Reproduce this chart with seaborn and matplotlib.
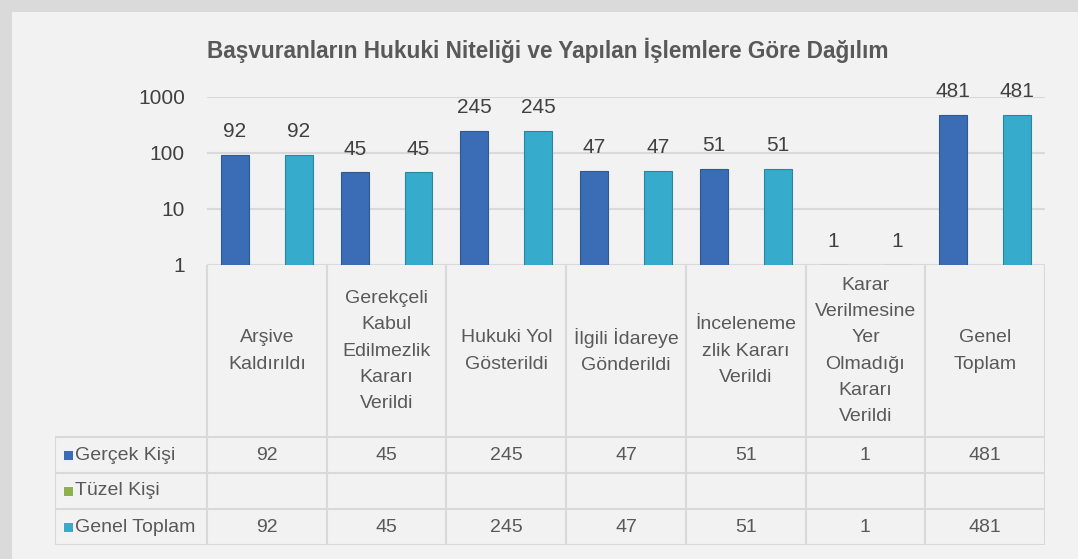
import numpy as np
import pandas as pd
import seaborn as sns
import matplotlib.pyplot as plt
from matplotlib.patches import Rectangle
from matplotlib.ticker import NullLocator

# data
categories = ["Arşive\nKaldırıldı", "Gerekçeli\nKabul\nEdilmezlik\nKararı\nVerildi",
              "Hukuki Yol\nGösterildi", "İlgili İdareye\nGönderildi",
              "İnceleneme\nzlik Kararı\nVerildi",
              "Karar\nVerilmesine\nYer\nOlmadığı\nKararı\nVerildi", "Genel\nToplam"]
series = ["Gerçek Kişi", "Tüzel Kişi", "Genel Toplam"]
gercek_kisi = [92, 45, 245, 47, 51, 1, 481]
tuzel_kisi = [np.nan] * 7
genel_toplam = [92, 45, 245, 47, 51, 1, 481]
yticks = [1, 10, 100, 1000]
colors = ["#3a6db5", "#8fb04e", "#36abcb"]
edges = {"#3a6db5": "#2f5a8f", "#36abcb": "#2a86a0"}
title = "Başvuranların Hukuki Niteliği ve Yapılan İşlemlere Göre Dağılım"

df = pd.DataFrame({
    "cat": categories * 3,
    "series": np.repeat(series, len(categories)),
    "val": gercek_kisi + tuzel_kisi + genel_toplam,
})

sns.set_theme(style="white")
plt.rcParams["font.family"] = ["Liberation Sans", "DejaVu Sans"]

W, H = 1078, 559
fig = plt.figure(figsize=(W / 100, H / 100), dpi=100, facecolor="#dadada")
fig.patches.append(Rectangle((12 / W, 0), 1, 1 - 12 / H, transform=fig.transFigure,
                             facecolor="#f2f2f2", edgecolor="none", zorder=-5))

fig.text(548 / W, 1 - 50 / H, title, ha="center", va="center", fontsize=16.3,
         fontweight="bold", color="#595959")

# bar chart
ax = fig.add_axes([207 / W, 1 - 265 / H, 838 / W, 168 / H])
ax.patch.set_alpha(0)
sns.barplot(data=df, x="cat", y="val", hue="series", hue_order=series, order=categories,
            palette=colors, saturation=1, width=0.8, gap=0.13, errorbar=None,
            legend=False, linewidth=0.8, ax=ax)
ax.set_yscale("log")
ax.set_ylim(1, 1000)
ax.set_xlim(-0.5, 6.5)
ax.yaxis.set_minor_locator(NullLocator())
ax.set_yticks(yticks, labels=[str(t) for t in yticks])
ax.yaxis.grid(True, color="#d9d9d9", lw=1.5)
ax.set_axisbelow(True)
ax.tick_params(axis="y", length=0, pad=16, labelsize=15, labelcolor="#404040")
ax.tick_params(axis="x", length=0, labelbottom=False)
ax.set_xlabel("")
ax.set_ylabel("")
sns.despine(ax=ax, left=True, bottom=True)
for c in ax.containers:
    for bar in c:
        fc = plt.matplotlib.colors.to_hex(bar.get_facecolor())
        bar.set_edgecolor(edges.get(fc, fc))
    ax.bar_label(c, fmt="%g", padding=10, fontsize=15, color="#404040")

# data table
tax = fig.add_axes([55 / W, 1 - 545 / H, 990 / W, 280 / H])
tax.axis("off")
px = 838 / 7
xl = -0.5 - 152 / px
tax.set_xlim(xl, 6.5)
tax.set_ylim(280, 0)
lc = "#d9d9d9"
for i in range(8):
    tax.plot([i - 0.5, i - 0.5], [0, 280], color=lc, lw=1.5)
tax.plot([xl, xl], [172, 280], color=lc, lw=1.5)
for y in [172, 208, 244, 280]:
    tax.plot([xl, 6.5], [y, y], color=lc, lw=1.5)
for i, cat in enumerate(categories):
    tax.text(i, 86, cat, ha="center", va="center", multialignment="center",
             fontsize=14, linespacing=1.7, color="#595959")
rows = [gercek_kisi, tuzel_kisi, genel_toplam]
for r, (name, vals, col) in enumerate(zip(series, rows, colors)):
    yc = 190 + 36 * r
    tax.add_patch(Rectangle((xl + 8 / px, yc - 5), 10 / px, 10, facecolor=col,
                            edgecolor="#ffffff", lw=0.6))
    tax.text(xl + 20 / px, yc, name, ha="left", va="center", fontsize=14, color="#595959")
    for i, v in enumerate(vals):
        if not np.isnan(v):
            tax.text(i, yc, f"{v:g}", ha="center", va="center", fontsize=14, color="#595959")

fig.savefig("out.png", dpi=100, facecolor=fig.get_facecolor())
